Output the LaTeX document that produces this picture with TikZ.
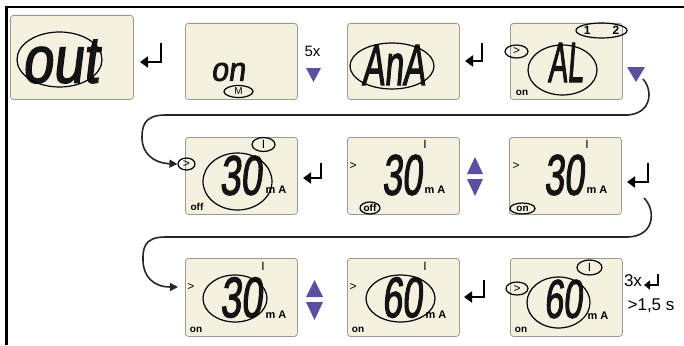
\documentclass[tikz,border=0pt]{standalone}
\usepackage{fontspec}
\setmainfont{Liberation Sans}
\newfontfamily\lcd[FakeStretch=0.8,FakeSlant=0.12,FakeBold=2]{Liberation Sans}
\usetikzlibrary{arrows.meta,shapes.geometric}
\definecolor{lcdfill}{HTML}{F4F1E1}
\definecolor{lcdedge}{HTML}{9B9A90}
\definecolor{btn}{HTML}{5A50A2}
\newcommand\seg[3]{\resizebox{#1pt}{#2pt}{\lcd #3}}
\newcommand\fs[1]{\fontsize{#1}{#1}\selectfont}
\begin{document}
\begin{tikzpicture}[x=1pt,y=-1pt,
  lcdbox/.style={draw=lcdedge, fill=lcdfill, rounded corners=3pt, line width=0.8pt, anchor=north west, inner sep=0pt},
  ring/.style={draw, ellipse, line width=1.2pt, inner sep=0pt},
  digits/.style={inner sep=0pt, text=black!92},
  tag/.style={inner sep=0pt, font=\bfseries\fs{10}},
  gt/.style={inner sep=0pt, font=\fs{12}},
  bar/.style={inner sep=0pt, font=\fs{12}},
  unit/.style={inner sep=0pt, font=\bfseries\fs{11}},
  label/.style={inner sep=0pt, font=\fs{17}},
  enter/.style={line width=2.8pt, -{Triangle[length=8pt,width=11pt]}},
  flow/.style={line width=1.6pt, draw=black!85, -{Triangle[length=8pt,width=8pt]}},
  key/.style={fill=btn}]
\useasboundingbox (0,0) rectangle (684,345);
% frame
\draw[line width=2.4pt] (684,7) -- (6.5,7) -- (6.5,345);

% ---------- row 1 ----------
\node[lcdbox, minimum width=123pt, minimum height=84pt] (b1) at (10,15) {};
\node[digits] (t1) at (60,61.5) {\seg{76}{43}{out}};
\node[ring, minimum width=85pt, minimum height=55pt] (r1) at (59.5,59.5) {};
\draw[enter] (161,43) -- (161,62) -- (140,62);

\node[lcdbox, minimum width=112pt, minimum height=76pt] (b2) at (185,23) {};
\node[digits] (t2) at (228,72) {\seg{34}{18}{on}};
\node[ring, minimum width=29pt, minimum height=12pt, font=\fs{10}] (m2) at (238.5,91.5) {M};
\node[label, font=\fs{15}] (n5x) at (312.5,51) {5x};
\fill[key] (306,68) -- (321,68) -- (313.5,82) -- cycle;

\node[lcdbox, minimum width=112pt, minimum height=76pt] (b3) at (347,23) {};
\node[digits] (t3) at (393.5,65) {\seg{63}{40}{AnA}};
\node[ring, minimum width=84pt, minimum height=46pt] (r3) at (392,66) {};
\draw[enter] (482,43) -- (482,61) -- (465,61);

\node[lcdbox, minimum width=112pt, minimum height=76pt] (b4) at (510,23) {};
\node[digits] (t4) at (565.5,62.5) {\seg{35}{39}{AL}};
\node[ring, minimum width=69pt, minimum height=50pt] (r4) at (562.5,70) {};
\node[ring, gt, minimum width=23pt, minimum height=13pt] (b4gt) at (516.5,51.5) {>};
\node[ring, font=\bfseries\fs{12}, minimum width=51pt, minimum height=15pt] (b4ch) at (601.5,30.5) {1\hspace{22pt}2};
\node[tag] (b4on) at (522,93) {on};
\fill[key] (627,67) -- (645,67) -- (636,82) -- cycle;

% curve row 1 -> row 2
\coordinate (c1s) at (643,79);

% ---------- row 2 ----------
\node[lcdbox, minimum width=112pt, minimum height=77pt] (b5) at (185,137) {};
\node[digits] (t5) at (240.5,175.5) {\seg{42}{39}{30}};
\node[unit] (u5) at (276,190) {m A};
\node[tag] (o5) at (197,207) {off};
\node[ring, minimum width=69pt, minimum height=57pt] (r5) at (237.5,181.5) {};
\node[ring, bar, minimum width=23pt, minimum height=14pt] (ri5) at (263.5,144.5) {I};
\node[ring, gt, minimum width=17pt, minimum height=12pt] (b5gt) at (186.5,164) {>};
\draw[flow] (c1s) .. controls (653,90) and (652,113) .. (628,115) -- (165,115)
  .. controls (143,115) and (142,128) .. (142,138)
  .. controls (142,152) and (152,163) .. (b5gt.west);
\draw[enter] (321,163) -- (321,178) -- (303,178);

\node[lcdbox, minimum width=112pt, minimum height=77pt] (b6) at (347,137) {};
\node[digits] (t6) at (402,175) {\seg{40}{40}{30}};
\node[unit] (u6) at (435,190) {m A};
\node[bar] (i6) at (425,144) {I};
\node[gt] (g6) at (353,166) {>};
\node[ring, tag, minimum width=20pt, minimum height=12pt] (o6) at (370,208) {off};
\fill[key] (467,174) -- (483,174) -- (475,157) -- cycle;
\fill[key] (467,179) -- (483,179) -- (475,196) -- cycle;

\node[lcdbox, minimum width=112pt, minimum height=77pt] (b7) at (509,137) {};
\node[digits] (t7) at (564,175) {\seg{40}{40}{30}};
\node[unit] (u7) at (597,190) {m A};
\node[bar] (i7) at (587,144) {I};
\node[gt] (g7) at (516,166) {>};
\node[ring, tag, minimum width=25pt, minimum height=11pt] (o7) at (522.5,208.5) {on};
\draw[enter] (648,163) -- (648,182) -- (627,182);

% curve row 2 -> row 3
\coordinate (c2s) at (644,198);
\coordinate (c2e) at (178,287);
\draw[flow] (c2s) .. controls (656,210) and (655,236) .. (628,237) -- (165,237)
  .. controls (143,237) and (143,250) .. (143,260)
  .. controls (143,276) and (153,287) .. (c2e);

% ---------- row 3 ----------
\node[lcdbox, minimum width=112pt, minimum height=78pt] (b8) at (185,258) {};
\node[digits] (t8) at (241,297.5) {\seg{42}{40}{30}};
\node[unit] (u8) at (276,315) {m A};
\node[bar] (i8) at (263,266.5) {I};
\node[gt] (g8) at (191,287) {>};
\node[tag] (o8) at (196,330) {on};
\node[ring, minimum width=64pt, minimum height=47pt] (r8) at (235,298.5) {};
\fill[key] (306,297) -- (323,297) -- (314.5,280) -- cycle;
\fill[key] (306,302) -- (323,302) -- (314.5,320) -- cycle;

\node[lcdbox, minimum width=112pt, minimum height=78pt] (b9) at (347,258) {};
\node[digits] (t9) at (402,297.5) {\seg{40}{40}{60}};
\node[unit] (u9) at (436,315) {m A};
\node[bar] (i9) at (425,266.5) {I};
\node[gt] (g9) at (353,287) {>};
\node[tag] (o9) at (358,330) {on};
\node[ring, minimum width=69pt, minimum height=47pt] (r9) at (400.5,298.5) {};
\draw[enter] (484,280) -- (484,297) -- (464,297);

\node[lcdbox, minimum width=112pt, minimum height=78pt] (b10) at (510,258) {};
\node[digits] (t10) at (563,299) {\seg{38}{38}{60}};
\node[unit] (u10) at (598,316) {m A};
\node[tag] (o10) at (521,330) {on};
\node[ring, minimum width=63pt, minimum height=51pt] (r10) at (558.5,302.5) {};
\node[ring, bar, minimum width=25pt, minimum height=15pt] (ri10) at (589.5,267.5) {I};
\node[ring, gt, minimum width=22pt, minimum height=13pt] (g10) at (517,288.5) {>};

\node[label] (n3x) at (633,280.5) {3x};
\draw[line width=2.4pt, -{Triangle[length=6pt,width=9pt]}] (658,274) -- (658,285) -- (644,285);
\node[label] (n15) at (651,306) {>1,5 s};
\end{tikzpicture}
\end{document}
